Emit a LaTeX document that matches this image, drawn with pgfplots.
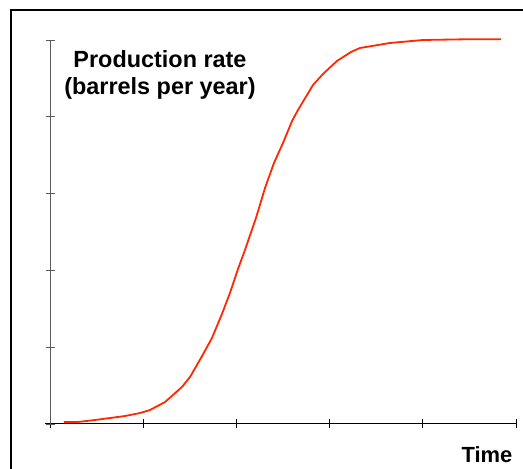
\documentclass[border=0pt]{standalone}
\usepackage{pgfplots}
\pgfplotsset{compat=1.18}
\usepackage{fontspec}
\setmainfont{Liberation Sans}
\definecolor{curvered}{RGB}{255,40,0}
\definecolor{yaxisgray}{RGB}{90,90,90}
\begin{document}
\begin{tikzpicture}[x=1bp,y=1bp]
  \useasboundingbox (0,0) rectangle (523,469);
  % outer frame, runs off the right and bottom edges
  \draw[line width=1.5bp] (11,-20) -- (11,459) -- (540,459);
  \begin{axis}[
    at={(50bp,45bp)},
    anchor=origin,
    scale only axis,
    width=466bp,
    height=384bp,
    xmin=0, xmax=5,
    ymin=0, ymax=5,
    axis x line=bottom,
    axis y line=left,
    x axis line style={-, black, line width=1bp},
    y axis line style={-, yaxisgray, line width=1bp},
    xtick={0,1,2,3,4,5},
    ytick={0,1,2,3,4,5},
    xticklabels={},
    yticklabels={},
    tick align=center,
    major tick length=9bp,
    x tick style={black, line width=0.8bp},
    y tick style={yaxisgray, line width=0.8bp},
    clip=false,
  ]
    \addplot[curvered, line width=1.8bp, mark=none] coordinates {
      (0.150, 0.026)
      (0.300, 0.026)
      (0.483, 0.052)
      (0.644, 0.078)
      (0.805, 0.104)
      (0.966, 0.143)
      (1.073, 0.182)
      (1.234, 0.286)
      (1.416, 0.482)
      (1.502, 0.612)
      (1.620, 0.859)
      (1.738, 1.120)
      (1.845, 1.432)
      (1.931, 1.706)
      (2.017, 2.018)
      (2.092, 2.266)
      (2.210, 2.682)
      (2.307, 3.073)
      (2.403, 3.398)
      (2.500, 3.659)
      (2.597, 3.945)
      (2.661, 4.089)
      (2.822, 4.414)
      (2.929, 4.557)
      (3.079, 4.727)
      (3.230, 4.844)
      (3.326, 4.896)
      (3.648, 4.961)
      (4.002, 5.000)
      (4.506, 5.010)
      (4.839, 5.010)
    };
  \end{axis}
  % x axis runs a little past the y axis on the left
  \draw[line width=1bp] (45,45) -- (50,45);
  \node[font=\fontsize{23.5}{27}\bfseries, anchor=base] at (160,401) {Production rate};
  \node[font=\fontsize{23.5}{27}\bfseries, anchor=base] at (160,374) {(barrels per year)};
  \node[font=\fontsize{22}{26}\bfseries, anchor=base] at (487,6) {Time};
\end{tikzpicture}
\end{document}
